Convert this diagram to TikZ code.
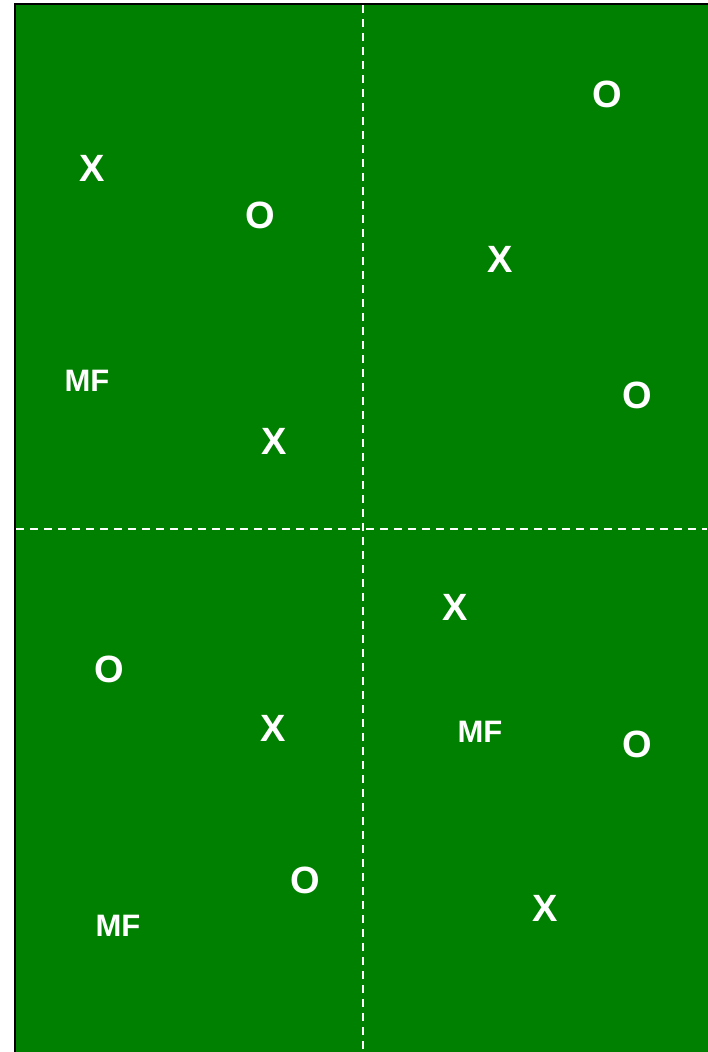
\documentclass[tikz,border=0pt]{standalone}
\usepackage{fontspec}
\setmainfont{Liberation Sans}
\definecolor{pitch}{RGB}{0,128,0}

\begin{document}
\begin{tikzpicture}[x=1pt,y=-1pt,
  player/.style={text=white,inner sep=0pt,font=\bfseries\fontsize{38}{38}\selectfont},
  mid/.style={text=white,inner sep=0pt,font=\bfseries\fontsize{31}{31}\selectfont},
  halfway/.style={white,line width=2pt,dash pattern=on 8pt off 6pt}]
  \useasboundingbox (0,0) rectangle (707,1052);
  \fill[pitch] (15,4) rectangle (712,1056);
  \draw[line width=2pt] (15,1056) -- (15,4) -- (712,4);
  % halves
  \coordinate (top) at (363,5);
  \coordinate (bot) at (363,1052);
  \coordinate (lft) at (16,529);
  \coordinate (rgt) at (707,529);
  \draw[halfway] (top) -- (bot);
  \draw[halfway] (lft) -- (rgt);
  % top left
  \node[player] (x1) at (92,168) {X};
  \node[player] (o1) at (260,215) {O};
  \node[mid] (mf1) at (87,381) {MF};
  \node[player] (x2) at (274,441) {X};
  % top right
  \node[player] (o2) at (607,94) {O};
  \node[player] (x3) at (500,259) {X};
  \node[player] (o3) at (637,395) {O};
  % bottom left
  \node[player] (o4) at (109,669) {O};
  \node[player] (x4) at (273,728) {X};
  \node[player] (o5) at (305,880) {O};
  \node[mid] (mf2) at (118,926) {MF};
  % bottom right
  \node[player] (x5) at (455,607) {X};
  \node[mid] (mf3) at (480,732) {MF};
  \node[player] (o6) at (637,744) {O};
  \node[player] (x6) at (545,908) {X};
\end{tikzpicture}
\end{document}
